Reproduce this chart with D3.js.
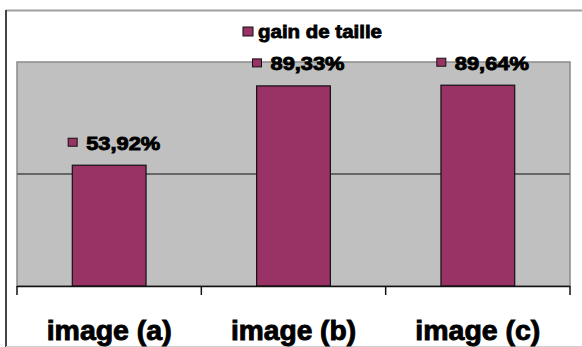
<!DOCTYPE html>
<html>
<head>
<meta charset="utf-8">
<script src="https://cdn.jsdelivr.net/npm/d3@7/dist/d3.min.js"></script>
<style>
  html, body { margin: 0; padding: 0; background: #ffffff; }
  svg { display: block; }
  text { font-family: "Liberation Sans", Arial, sans-serif; font-weight: bold; fill: #000; }
</style>
</head>
<body>
<svg id="chart" width="582" height="347"></svg>
<script>
// Compression gain per image
const categories = ["image (a)", "image (b)", "image (c)"];
const gainValues = [0.5392, 0.8933, 0.8964];
const valueLabels = ["53,92%", "89,33%", "89,64%"];
const seriesName = "gain de taille";
const yTicks = [0, 0.5, 1];

const svg = d3.select("#chart");
const W = 582, H = 347;
const plot = { left: 17, right: 570, top: 62, bottom: 286 };
const barColor = "#993366";

// Outer chart frame
svg.append("line").attr("x1", 6).attr("x2", W).attr("y1", 10.5).attr("y2", 10.5)
  .attr("stroke", "#a0a0a0").attr("stroke-width", 2);
svg.append("line").attr("x1", 6).attr("x2", 6).attr("y1", 10).attr("y2", H)
  .attr("stroke", "#454545").attr("stroke-width", 2);
svg.append("line").attr("x1", 6).attr("x2", W).attr("y1", 346.5).attr("y2", 346.5)
  .attr("stroke", "#d0d0d0").attr("stroke-width", 1);

const x = d3.scaleBand().domain(categories)
  .range([plot.left, plot.right]).paddingInner(0.6).paddingOuter(0.3);
const y = d3.scaleLinear().domain([0, 1]).range([plot.bottom, plot.top]);

// Plot area
svg.append("rect")
  .attr("x", plot.left).attr("y", plot.top)
  .attr("width", plot.right - plot.left).attr("height", plot.bottom - plot.top)
  .attr("fill", "#c0c0c0").attr("stroke", "#8a8a8a").attr("stroke-width", 1.5);

// Horizontal gridlines
svg.append("g").selectAll("line")
  .data(yTicks.filter(t => t > 0 && t < 1))
  .join("line")
  .attr("x1", plot.left).attr("x2", plot.right)
  .attr("y1", d => y(d)).attr("y2", d => y(d))
  .attr("stroke", "#666").attr("stroke-width", 2.2);

// Bars
svg.append("g").selectAll("rect")
  .data(categories)
  .join("rect")
  .attr("x", d => x(d))
  .attr("y", (d, i) => y(gainValues[i]))
  .attr("width", x.bandwidth())
  .attr("height", (d, i) => y(0) - y(gainValues[i]))
  .attr("fill", barColor).attr("stroke", "#111").attr("stroke-width", 1.2);

// Category axis: line, tick marks at band edges, labels
const step = x.step();
const edges = categories.map(c => x(c) - step * x.paddingOuter()).concat([plot.right]);
svg.append("line").attr("x1", plot.left).attr("x2", plot.right)
  .attr("y1", plot.bottom + 0.5).attr("y2", plot.bottom + 0.5)
  .attr("stroke", "#111").attr("stroke-width", 1.5);
svg.append("g").selectAll("line")
  .data(edges)
  .join("line")
  .attr("x1", d => d).attr("x2", d => d)
  .attr("y1", plot.bottom).attr("y2", plot.bottom + 9)
  .attr("stroke", "#111").attr("stroke-width", 1.5);

const xAxis = d3.axisBottom(x).tickSize(0).tickPadding(0);
const gx = svg.append("g").attr("transform", `translate(0,${plot.bottom})`).call(xAxis);
gx.select(".domain").remove();
gx.selectAll("text")
  .attr("y", 54).attr("dy", null)
  .attr("font-size", 27)
  .attr("font-family", "'Liberation Sans', Arial, sans-serif")
  .attr("font-weight", "bold")
  .attr("fill", "#000")
  .attr("stroke", "#000").attr("stroke-width", 0.9)
  .attr("textLength", 125).attr("lengthAdjust", "spacingAndGlyphs")
  .attr("text-anchor", "middle");

// Value labels with series key
const lbl = svg.append("g").selectAll("g")
  .data(categories)
  .join("g")
  .attr("transform", (d, i) =>
    `translate(${x(d) + x.bandwidth() / 2 - 41},${y(gainValues[i])})`);
lbl.append("rect")
  .attr("x", 0).attr("y", -27).attr("width", 9).attr("height", 8)
  .attr("fill", barColor).attr("stroke", "#111").attr("stroke-width", 1);
lbl.append("text")
  .attr("x", 18).attr("y", -15.5)
  .attr("font-size", 18.5)
  .attr("stroke", "#000").attr("stroke-width", 0.9)
  .attr("textLength", 74).attr("lengthAdjust", "spacingAndGlyphs")
  .text((d, i) => valueLabels[i]);

// Legend
const leg = svg.append("g").attr("transform", "translate(243,27)");
leg.append("rect").attr("x", 0).attr("y", 0).attr("width", 10).attr("height", 9)
  .attr("fill", barColor).attr("stroke", "#111").attr("stroke-width", 1);
leg.append("text").attr("x", 15).attr("y", 11)
  .attr("font-size", 18)
  .attr("stroke", "#000").attr("stroke-width", 0.8)
  .attr("textLength", 124).attr("lengthAdjust", "spacingAndGlyphs")
  .text(seriesName);
</script>
</body>
</html>
